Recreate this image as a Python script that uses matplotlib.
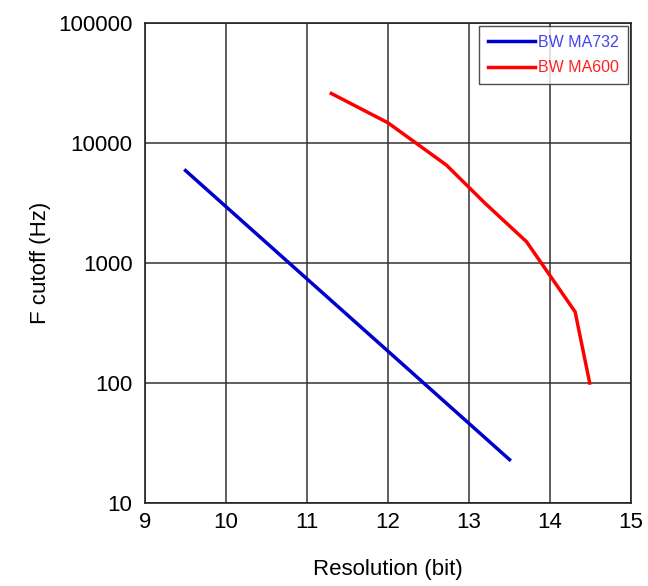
import matplotlib.pyplot as plt
import numpy as np
from matplotlib.ticker import FixedLocator, NullLocator

plt.rcParams['font.family'] = ['Liberation Sans', 'DejaVu Sans']

# data
res_732 = [9.5, 13.5]
fc_732 = [5900, 23]
res_600 = [11.3, 12.0, 12.72, 13.2, 13.71, 14.31, 14.49]
fc_600 = [25900, 14750, 6560, 3140, 1506, 392, 100]
x_ticks = [9, 10, 11, 12, 13, 14, 15]
y_ticks = [10, 100, 1000, 10000, 100000]

fig = plt.figure(figsize=(6.48, 5.86), dpi=100)
ax = fig.add_axes([0.2238, 0.1416, 0.75, 0.819])

ax.plot(res_732, fc_732, color='#0000cc', linewidth=2.5, label='BW MA732')
ax.plot(res_600, fc_600, color='#ff0000', linewidth=2.5, label='BW MA600')

ax.set_yscale('log')
ax.set_xlim(9, 15)
ax.set_ylim(10, 100000)
ax.xaxis.set_major_locator(FixedLocator(x_ticks))
ax.yaxis.set_major_locator(FixedLocator(y_ticks))
ax.yaxis.set_minor_locator(NullLocator())
ax.set_yticklabels([str(v) for v in y_ticks])
ax.tick_params(length=0, labelsize=16)
ax.tick_params(axis='x', pad=6.5)
ax.tick_params(axis='y', pad=9)
ax.grid(True, color='#333333', linewidth=1.1)

for s in ax.spines.values():
    s.set_color('#222222')
    s.set_linewidth(1.2)

ax.set_xlabel('Resolution (bit)', fontsize=16, labelpad=19)
ax.set_ylabel('F cutoff (Hz)', fontsize=16, labelpad=5)

leg = ax.legend(loc='upper right', fontsize=11.5, frameon=True, fancybox=False,
                edgecolor='#222222', handlelength=2.95, handletextpad=0.2,
                borderaxespad=0.2, borderpad=0.55, labelspacing=0.65)
leg.get_frame().set_linewidth(1.0)
leg.get_texts()[0].set_color('#4444ee')
leg.get_texts()[1].set_color('#ff2222')

fig.savefig('out.png', dpi=100)
